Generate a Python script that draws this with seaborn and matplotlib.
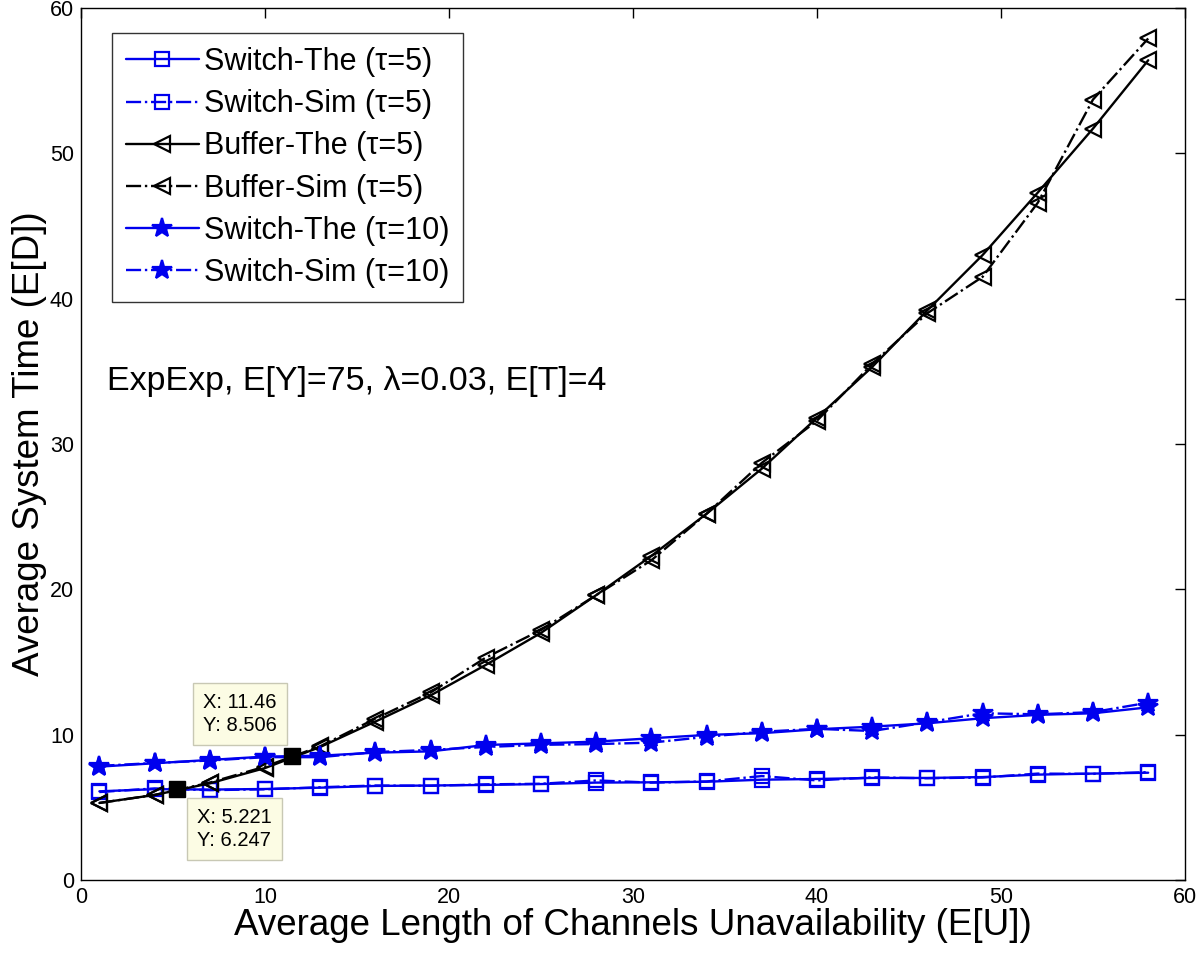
import numpy as np
import pandas as pd
import matplotlib
matplotlib.use("Agg")
import matplotlib.pyplot as plt
import seaborn as sns

# data
eu = [1, 4, 7, 10, 13, 16, 19, 22, 25, 28, 31, 34, 37, 40, 43, 46, 49, 52, 55, 58]

switch_the_5 = [6.10, 6.25, 6.22, 6.26, 6.35, 6.47, 6.50, 6.54, 6.60, 6.70, 6.72, 6.76, 6.90, 6.95,
                7.02, 7.02, 7.08, 7.25, 7.32, 7.38]
switch_sim_5 = [6.05, 6.30, 6.18, 6.24, 6.38, 6.50, 6.48, 6.58, 6.62, 6.85, 6.70, 6.78, 7.15, 6.85,
                7.06, 7.00, 7.05, 7.32, 7.30, 7.42]
buffer_the_5 = [5.30, 5.85, 6.65, 7.70, 9.15, 10.9, 12.7, 14.8, 17.0, 19.6, 22.3, 25.2, 28.3, 31.8,
                35.3, 39.2, 43.0, 47.3, 51.7, 56.4]
buffer_sim_5 = [5.30, 5.85, 6.70, 7.80, 9.20, 11.1, 12.9, 15.3, 17.2, 19.6, 22.0, 25.2, 28.7, 31.6,
                35.5, 39.0, 41.5, 46.6, 53.7, 57.9]
switch_the_10 = [7.80, 8.03, 8.26, 8.49, 8.55, 8.76, 8.85, 9.29, 9.40, 9.52, 9.75, 9.98, 10.1, 10.37,
                 10.55, 10.78, 11.13, 11.36, 11.47, 11.88]
switch_sim_10 = [7.85, 8.05, 8.22, 8.45, 8.45, 8.80, 8.95, 9.15, 9.30, 9.35, 9.45, 9.85, 10.2, 10.40,
                 10.25, 10.85, 11.47, 11.40, 11.55, 12.20]

tip_x = [5.221, 11.46]
tip_y = [6.247, 8.506]

sns.set_theme(style="white")
plt.rcParams["font.family"] = ["Liberation Sans", "DejaVu Sans"]
plt.rcParams["text.color"] = "black"
plt.rcParams["axes.labelcolor"] = "black"

fig = plt.figure(figsize=(12, 9.59), dpi=100)
ax = fig.add_axes([0.0675, 0.0824, 0.92, 0.9093])

series = [
    (switch_the_5, "Switch-The (\u03c4=5)", "#0000ee", "-", "s", 9.5, "none"),
    (switch_sim_5, "Switch-Sim (\u03c4=5)", "#0000ee", "-.", "s", 9.5, "none"),
    (buffer_the_5, "Buffer-The (\u03c4=5)", "black", "-", "<", 12, "none"),
    (buffer_sim_5, "Buffer-Sim (\u03c4=5)", "black", "-.", "<", 12, "none"),
    (switch_the_10, "Switch-The (\u03c4=10)", "#0000ee", "-", "*", 15, "#0000ee"),
    (switch_sim_10, "Switch-Sim (\u03c4=10)", "#0000ee", "-.", "*", 15, "#0000ee"),
]

for vals, name, col, ls, mk, ms, fc in series:
    df = pd.DataFrame({"x": eu, "y": vals})
    sns.lineplot(data=df, x="x", y="y", ax=ax, color=col, linestyle=ls, marker=mk,
                 markersize=ms, markerfacecolor=fc, markeredgecolor=col,
                 markeredgewidth=1.6, linewidth=1.7, label=name)

# data tips
ax.plot(tip_x, tip_y, linestyle="none", marker="s", markersize=11, color="black", zorder=6)
tip_box = dict(boxstyle="square,pad=0.5", facecolor="#fcfce4", edgecolor="#c8c8b4", linewidth=1)
ax.annotate(f"X: {tip_x[1]:.2f}\nY: {tip_y[1]:.3f}", xy=(tip_x[1], tip_y[1]),
            xytext=(6.65, 12.85), fontsize=14.5, linespacing=1.25, va="top", bbox=tip_box,
            zorder=7)
ax.annotate(f"X: {tip_x[0]:.3f}\nY: {tip_y[0]:.3f}", xy=(tip_x[0], tip_y[0]),
            xytext=(6.3, 4.95), fontsize=14.5, linespacing=1.25, va="top", bbox=tip_box,
            zorder=7)

ax.text(0.0236, 0.572, "ExpExp, E[Y]=75, \u03bb=0.03, E[T]=4", transform=ax.transAxes,
        fontsize=24.5, va="center", ha="left")

ax.set_xlim(0, 60)
ax.set_ylim(0, 60)
ax.set_xticks(range(0, 61, 10))
ax.set_yticks(range(0, 61, 10))
ax.set_xlabel("Average Length of Channels Unavailability (E[U])", fontsize=26.5, labelpad=0)
ax.set_ylabel("Average System Time (E[D])", fontsize=26.5, labelpad=2)
ax.tick_params(direction="in", top=True, right=True, length=7, width=1, labelsize=15.5,
               colors="black", pad=5)
for sp in ax.spines.values():
    sp.set_color("black")
    sp.set_linewidth(1)

leg = ax.legend(loc="upper left", bbox_to_anchor=(0.028, 0.971), borderaxespad=0, fontsize=22,
                frameon=True, fancybox=False, edgecolor="black", handlelength=2.4,
                borderpad=0.45, labelspacing=0.4, handletextpad=0.15)
leg.get_frame().set_linewidth(1)
for t in leg.get_texts():
    t.set_color("black")

fig.savefig("out.png", dpi=100)
